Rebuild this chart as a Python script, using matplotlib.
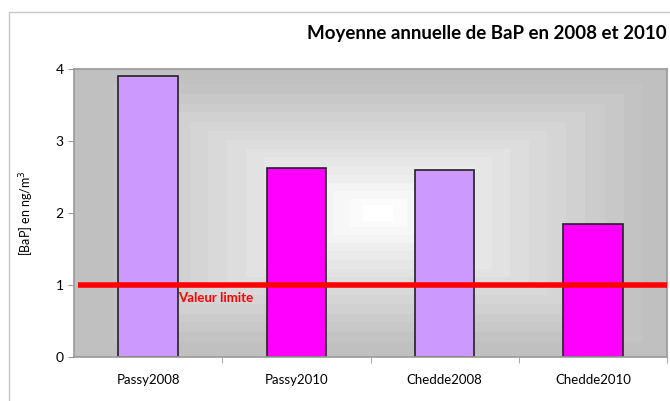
import numpy as np
import matplotlib.pyplot as plt
from matplotlib.patches import Rectangle

categories = ["Passy2008", "Passy2010", "Chedde2008", "Chedde2010"]
values = [3.9, 2.63, 2.6, 1.85]
colors = ["#cc99ff", "#ff00ff", "#cc99ff", "#ff00ff"]
limit = 1.0
yticks = [0, 1, 2, 3, 4]

plt.rcParams["font.family"] = ["Lato", "DejaVu Sans"]

fig = plt.figure(figsize=(6.7, 4.01), dpi=100)
ax = fig.add_axes([74 / 670, 1 - 357 / 401, 593 / 670, 288 / 401])

# outer chart frame
fig.patches.append(Rectangle((9 / 670, -0.1), 1.2, 1 - 12 / 401 + 0.1,
                             transform=fig.transFigure, fill=False,
                             edgecolor="#c8c8c8", lw=1))

# rectangular gradient background (grey edges -> white centre)
nx, ny = 600, 300
gx = np.linspace(-0.5, 3.5, nx)
gy = np.linspace(0, 4, ny)
X, Y = np.meshgrid(gx, gy)
d = np.maximum(np.abs(X - 1.55) / 2.0, np.abs(Y - 2.0) / 2.0)
shade = 1.0 - 0.25 * np.clip((d - 0.03) / 0.9, 0, 1) ** 0.9
shade = np.round(shade * 60) / 60
ax.imshow(shade, extent=(-0.5, 3.5, 0, 4), origin="lower", cmap="gray",
          vmin=0, vmax=1, aspect="auto", interpolation="nearest", zorder=0)

x = np.arange(len(categories))
ax.bar(x, values, width=0.4, color=colors, edgecolor="#222222", lw=1.2, zorder=2)
ax.plot([-0.47, 3.5], [limit, limit], color="#ff0000", lw=4, zorder=3,
        solid_capstyle="butt")
ax.text(0.2, limit - 0.1, "Valeur limite", color="#ff0000", fontsize=9.5,
        fontweight="bold", va="top", ha="left", zorder=4)

ax.set_xlim(-0.5, 3.5)
ax.set_ylim(0, 4)
ax.set_yticks(yticks)
ax.set_xticks(x)
ax.set_xticklabels(categories, fontsize=9.5)
ax.set_xticks([0.5, 1.5, 2.5, 3.5], minor=True)
ax.tick_params(axis="x", which="major", length=0, pad=12)
ax.tick_params(axis="x", which="minor", length=4, color="#999999")
ax.tick_params(axis="y", length=4, color="#999999", labelsize=10)
for s in ax.spines.values():
    s.set_color("#999999")
    s.set_linewidth(1.2)
ax.set_ylabel("[BaP] en ng/m$^3$", fontsize=9, labelpad=14)

fig.text(667 / 670, 1 - 33 / 401, "Moyenne annuelle de BaP en 2008 et 2010",
         ha="right", va="center", fontsize=13.5, fontweight="bold")

fig.savefig("out.png", dpi=100, facecolor="white")
